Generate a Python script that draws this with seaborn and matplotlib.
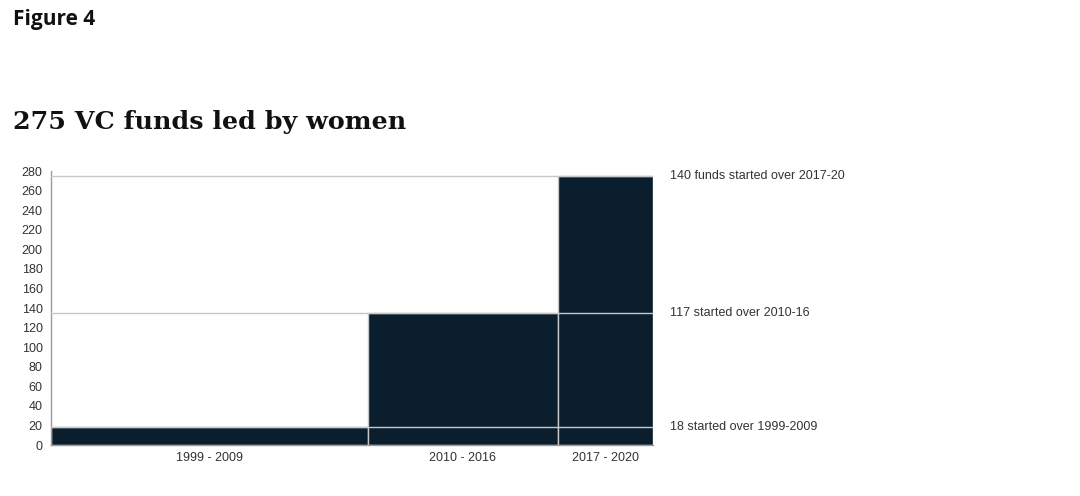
import numpy as np
import pandas as pd
import matplotlib
matplotlib.use("Agg")
import matplotlib.pyplot as plt
import matplotlib.transforms as mtransforms
import seaborn as sns

# ---- data ----
period_labels = ["1999 - 2009", "2010 - 2016", "2017 - 2020"]
period_widths = [10, 6, 3]          # span of each period (years)
new_funds = [18, 117, 140]          # funds started in each period
cumulative_funds = [18, 135, 275]   # running total of funds led by women
annotations = ["18 started over 1999-2009",
               "117 started over 2010-16",
               "140 funds started over 2017-20"]
y_ticks = list(range(0, 281, 20))

# ---- style ----
sns.set_theme(style="white")
plt.rcParams["font.family"] = ["Liberation Sans", "DejaVu Sans"]

BAR = "#0b1e2d"
GRID = "#c4c8ca"
TXT = "#333333"
FS = 9

edges = [float(e) for e in np.concatenate([[0], np.cumsum(period_widths)])]
mids = [(a + b) / 2 for a, b in zip(edges[:-1], edges[1:])]
df = pd.DataFrame({"mid": mids, "total": cumulative_funds, "period": period_labels})

fig = plt.figure(figsize=(10.8, 4.96), dpi=100)
ax = fig.add_axes([51 / 1080, 1 - 445 / 496, (653 - 51) / 1080, (445 - 171) / 496])

sns.histplot(data=df, x="mid", weights="total", bins=edges, ax=ax,
             color=BAR, alpha=1, edgecolor=GRID, linewidth=1.0, zorder=2)

for v in cumulative_funds:
    ax.axhline(v, color=GRID, lw=1.0, zorder=3)

ax.set_xlim(edges[0], edges[-1])
ax.set_ylim(0, 280)
ax.set_yticks(y_ticks)
ax.set_yticklabels([str(t) for t in y_ticks], fontsize=FS, color=TXT)
ax.set_xticks(mids)
ax.set_xticklabels(period_labels, fontsize=FS, color=TXT)
ax.tick_params(axis="y", length=0, pad=6)
ax.tick_params(axis="x", length=0, pad=5)
ax.set_xlabel("")
ax.set_ylabel("")

for s in ["top", "right"]:
    ax.spines[s].set_visible(False)
ax.spines["left"].set_color("#9a9a9a")
ax.spines["left"].set_linewidth(1.0)
ax.spines["bottom"].set_color("#9a9a9a")
ax.spines["bottom"].set_linewidth(1.0)

trans = mtransforms.blended_transform_factory(ax.transAxes, ax.transData)
for v, txt in zip(cumulative_funds, annotations):
    ax.text((670 - 51) / 602, v, txt, transform=trans, fontsize=FS,
            color=TXT, va="center", ha="left")

fig.text(13 / 1080, 1 - 19 / 496, "Figure 4", fontsize=15, fontweight="bold",
         family=["Open Sans", "DejaVu Sans"], va="center", ha="left", color="#111111")
fig.text(13 / 1080, 1 - 122 / 496, "275 VC funds led by women", fontsize=18.3,
         fontweight="bold", family=["DejaVu Serif"], va="center", ha="left",
         color="#111111")

fig.savefig("out.png", dpi=100, facecolor="white")
